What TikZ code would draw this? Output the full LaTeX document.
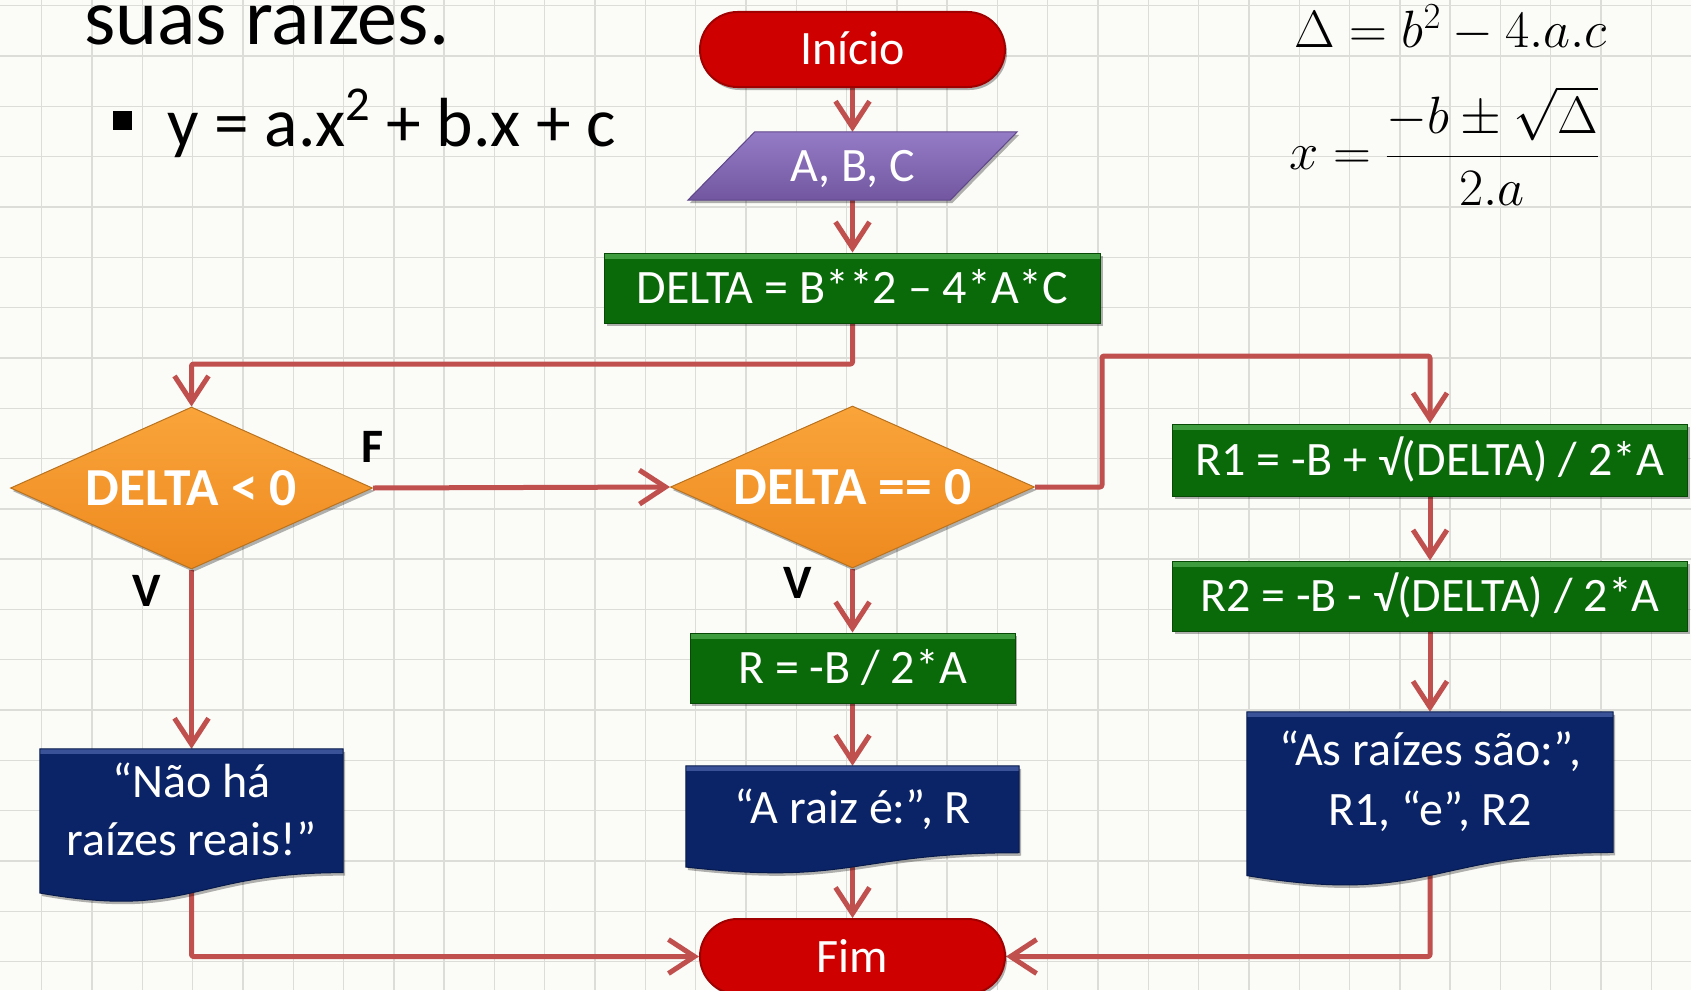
\RequirePackage{fix-cm}
\documentclass[tikz,border=0pt]{standalone}
\usepackage[no-math]{fontspec}
\setmainfont{Carlito}
\usetikzlibrary{arrows.meta,shapes.geometric,shapes.misc,calc,shadows}
\definecolor{bgc}{HTML}{FBFBF8}
\definecolor{gridc}{HTML}{DCDCD8}
\definecolor{arrc}{HTML}{C0504D}
\definecolor{termc}{HTML}{CF0000}
\definecolor{termd}{HTML}{A00000}
\definecolor{purpt}{HTML}{957CC6}
\definecolor{purpb}{HTML}{7256A0}
\definecolor{purpd}{HTML}{5E4688}
\definecolor{greenc}{HTML}{0A6A0A}
\definecolor{greenl}{HTML}{3E9C3E}
\definecolor{greend}{HTML}{064A06}
\definecolor{navyc}{HTML}{0B2467}
\definecolor{navyl}{HTML}{3A5398}
\definecolor{navyd}{HTML}{071A4C}
\definecolor{orat}{HTML}{F9A43A}
\definecolor{orab}{HTML}{EE8A1F}
\definecolor{orad}{HTML}{B9731F}
\pgfdeclarelayer{gridlayer}
\pgfdeclarelayer{linelayer}
\pgfdeclarelayer{shapelayer}
\pgfsetlayers{gridlayer,linelayer,shapelayer,main}
\newcommand\boxfont{\fontsize{48}{58}\selectfont}
\newcommand\decfont{\fontsize{53.5}{62}\selectfont\bfseries}
\newcommand\docshape[1]{\path[docfill] (#1.north west) -- (#1.north east) -- ($(#1.north east)!0.802!(#1.south east)$) .. controls ($(#1.north)!0.802!(#1.south)$) and ($(#1.north)!1.107!(#1.south)$) .. ($(#1.north west)!0.934!(#1.south west)$) -- cycle;}
\tikzset{
  shadowed/.style={drop shadow={shadow xshift=2pt,shadow yshift=-3pt,opacity=0.3,fill=black}},
  boxtext/.style={text=white,font=\boxfont,text height=31pt,text depth=0pt,inner sep=0pt},
  term/.style={boxtext,rounded rectangle,fill=termc,draw=termd,line width=2pt,minimum width=305pt,minimum height=75pt,shadowed},
  proc/.style={boxtext,rectangle,fill=greenc,draw=greend,line width=1pt,shadowed,
    path picture={\fill[greenl] (path picture bounding box.north west) rectangle ([yshift=-6pt]path picture bounding box.north east);}},
  dec/.style={diamond,aspect=2.24,minimum width=362pt,minimum height=162pt,inner sep=0pt,top color=orat,bottom color=orab,draw=orad,line width=1pt,text=white,font=\decfont,text height=35pt,text depth=0pt,shadowed},
  slot/.style={rectangle,inner sep=0pt},
  iofill/.style={top color=purpt,bottom color=purpb,draw=purpd,line width=1pt,shadowed},
  docfill/.style={fill=navyc,draw=navyd,line width=1pt,shadowed,
    path picture={\fill[navyl] (path picture bounding box.north west) rectangle ([yshift=-5pt]path picture bounding box.north east);}},
  doctext/.style={text=white,font=\boxfont,align=center,inner sep=0pt},
  flag/.style={font=\fontsize{48}{58}\selectfont\bfseries,text=black,inner sep=0pt},
  arr/.style={draw=arrc,line width=5pt,rounded corners=2pt,line join=round,-{Straight Barb[length=26pt,width=34pt]}},
  gridline/.style={draw=gridc,line width=1.4pt},
}
\begin{document}
\begin{tikzpicture}[x=1pt,y=-1pt]
\useasboundingbox (0,0) rectangle (1691,990);
\begin{pgfonlayer}{gridlayer}
\fill[bgc] (0,0) rectangle (1691,990);
\foreach \i in {0,...,33} \draw[gridline] ({41.7+50.3*\i},0) -- ++(0,990);
\foreach \j in {0,...,19} \draw[gridline] (0,{5.8+50.3*\j}) -- ++(1691,0);
\end{pgfonlayer}

% heading and formulas
\node[anchor=base west,font=\fontsize{80}{90}\selectfont,inner sep=0pt] (title) at (84,45) {suas raizes.};
\node[fill=black,minimum size=19pt,inner sep=0pt] (bul) at (122.5,120) {};
\node[anchor=base west,font=\fontsize{69.5}{80}\selectfont,inner sep=0pt] (eq) at (167,146) {y = a.x\textsuperscript{2} + b.x + c};
\node[anchor=base west,font=\fontsize{52.5}{60}\selectfont,inner sep=0pt] (f1) at (1294,48) {$\Delta = b^2 - 4.a.c$};
\node[anchor=base west,font=\fontsize{52.5}{60}\selectfont,inner sep=0pt] (f2) at (1289,169) {$x = \displaystyle\frac{-b \pm \sqrt{\Delta}}{2.a}$};

% flowchart nodes
\node[term] (ini) at (852.5,49.5) {Início};
\node[slot,boxtext,minimum width=329pt,minimum height=68pt] (abc) at (852.5,166) {A, B, C};
\node[proc,minimum width=496pt,minimum height=70pt] (delta) at (852.5,288) {DELTA = B**2 – 4*A*C};
\node[dec] (d1) at (191.5,488) {DELTA < 0};
\node[dec,minimum width=364pt] (d2) at (852.5,487) {DELTA == 0};
\node[proc,minimum width=515pt,minimum height=72pt] (r1) at (1430,460) {R1 = -B + √(DELTA) / 2*A};
\node[proc,minimum width=515pt,minimum height=70pt] (r2) at (1430,596) {R2 = -B - √(DELTA) / 2*A};
\node[proc,minimum width=325pt,minimum height=70pt] (r) at (852.5,668) {R = -B / 2*A};
\node[slot,minimum width=303pt,minimum height=154pt] (doc1) at (191.5,826) {};
\node[slot,minimum width=333pt,minimum height=108pt] (doc2) at (852.5,820) {};
\node[slot,minimum width=366pt,minimum height=175pt] (doc3) at (1430,799.5) {};
\node[doctext] (doc1t) at (191.5,809.5) {“Não há\\raízes reais!”};
\node[doctext,anchor=base] (doc2t) at (852.5,823) {“A raiz é:”, R};
\node[doctext,font=\fontsize{48}{60}\selectfont] (doc3t) at (1430,781) {“As raízes são:”,\\R1, “e”, R2};
\node[term] (fim) at (852.5,956.5) {Fim};

\node[flag] (lf) at (373,447) {F};
\node[flag] (lv1) at (147,591) {V};
\node[flag] (lv2) at (798,583) {V};

\coordinate (j1) at (0,364);
\coordinate (j2) at (1102,356);

\begin{pgfonlayer}{shapelayer}
\path[iofill] ([xshift=67pt]abc.north west) -- (abc.north east) -- ([xshift=-67pt]abc.south east) -- (abc.south west) -- cycle;
\docshape{doc1}
\docshape{doc2}
\docshape{doc3}
\end{pgfonlayer}

\begin{pgfonlayer}{linelayer}
\draw[arr] (ini.south) -- (abc.north);
\draw[arr] (abc.south) -- (delta.north);
\draw[arr] (delta.south) -- (delta.south |- j1) -| (d1.north);
\draw[arr] (d1.east) -- (d2.west);
\draw[arr] (d1.south) -- (doc1.north);
\draw[arr] (d2.south) -- (r.north);
\draw[arr] (r.south) -- (doc2.north);
\draw[arr] (doc2.center) -- (fim.north);
\draw[arr] (doc1.center) |- (fim.west);
\draw[arr] (doc3.center) |- (fim.east);
\draw[arr] (d2.east) -| (j2) -| (r1.north);
\draw[arr] (r1.south) -- (r2.north);
\draw[arr] (r2.south) -- (doc3.north);
\end{pgfonlayer}
\end{tikzpicture}
\end{document}
